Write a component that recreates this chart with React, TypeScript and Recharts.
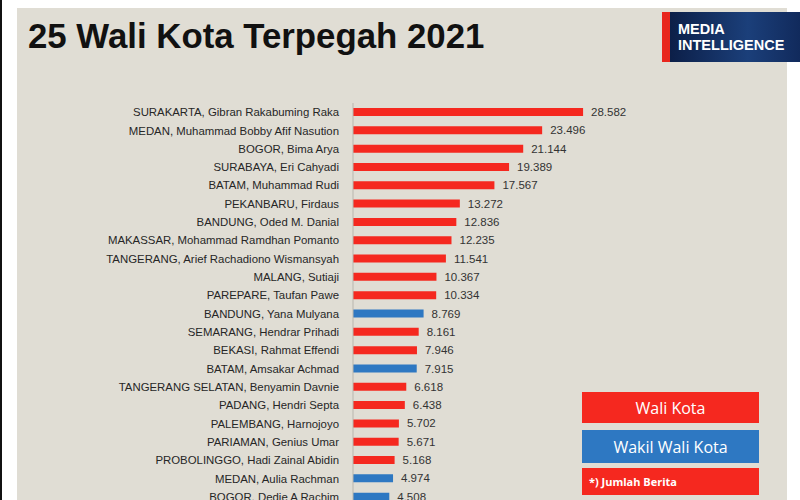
import React from 'react';
import { BarChart, Bar, XAxis, YAxis, Cell, LabelList } from 'recharts';

const names = [
  'SURAKARTA, Gibran Rakabuming Raka',
  'MEDAN, Muhammad Bobby Afif Nasution',
  'BOGOR, Bima Arya',
  'SURABAYA, Eri Cahyadi',
  'BATAM, Muhammad Rudi',
  'PEKANBARU, Firdaus',
  'BANDUNG, Oded M. Danial',
  'MAKASSAR, Mohammad Ramdhan Pomanto',
  'TANGERANG, Arief Rachadiono Wismansyah',
  'MALANG, Sutiaji',
  'PAREPARE, Taufan Pawe',
  'BANDUNG, Yana Mulyana',
  'SEMARANG, Hendrar Prihadi',
  'BEKASI, Rahmat Effendi',
  'BATAM, Amsakar Achmad',
  'TANGERANG SELATAN, Benyamin Davnie',
  'PADANG, Hendri Septa',
  'PALEMBANG, Harnojoyo',
  'PARIAMAN, Genius Umar',
  'PROBOLINGGO, Hadi Zainal Abidin',
  'MEDAN, Aulia Rachman',
  'BOGOR, Dedie A Rachim',
];

const counts = [
  28582, 23496, 21144, 19389, 17567, 13272, 12836, 12235, 11541, 10367, 10334,
  8769, 8161, 7946, 7915, 6618, 6438, 5702, 5671, 5168, 4974, 4508,
];

// W = wali kota, D = wakil wali kota
const roles = [
  'W', 'W', 'W', 'W', 'W', 'W', 'W', 'W', 'W', 'W', 'W',
  'D', 'W', 'W', 'D', 'W', 'W', 'W', 'W', 'W', 'D', 'D',
];

const RED = '#f5281f';
const BLUE = '#2e78c2';

const data = names.map((name, i) => ({ name, count: counts[i], role: roles[i] }));

const fmt = (v: number) => v.toLocaleString('de-DE');

const legendBox: React.CSSProperties = {
  position: 'absolute',
  left: 582,
  width: 177,
  color: '#fff',
  fontFamily: '"Open Sans", "Liberation Sans", sans-serif',
  display: 'flex',
  alignItems: 'center',
  justifyContent: 'center',
};

export default function App() {
  return (
    <div
      style={{
        position: 'fixed',
        left: 0,
        top: 0,
        width: 800,
        height: 500,
        overflow: 'hidden',
        background: '#fff',
      }}
    >
      <div style={{ position: 'absolute', left: 0, top: 0, width: 2, height: 500, background: '#111' }} />
      <div
        style={{
          position: 'absolute',
          left: 17,
          top: 8,
          width: 770,
          height: 500,
          background: '#e0ddd4',
        }}
      />
      <div
        style={{
          position: 'absolute',
          left: 28,
          top: 18,
          fontFamily: '"Liberation Sans", Arial, sans-serif',
          fontWeight: 700,
          fontSize: 34.8,
          lineHeight: '36px',
          color: '#111',
        }}
      >
        25 Wali Kota Terpegah 2021
      </div>
      <div
        style={{
          position: 'absolute',
          left: 662,
          top: 12,
          width: 138,
          height: 50,
          background: 'linear-gradient(90deg, #0c1f48 0%, #1b3f7a 60%, #112a5c 100%)',
          borderLeft: '8px solid #e8261e',
          boxSizing: 'border-box',
          color: '#fff',
          fontFamily: '"Liberation Sans", Arial, sans-serif',
          fontWeight: 700,
          fontSize: 14.5,
          lineHeight: '16px',
          paddingLeft: 8,
          paddingTop: 9,
        }}
      >
        <div>MEDIA</div>
        <div>INTELLIGENCE</div>
      </div>

      <div style={{ position: 'absolute', left: 0, top: 0 }}>
        <BarChart
          width={800}
          height={524}
          data={data}
          layout="vertical"
          margin={{ top: 103, right: 125, left: 0, bottom: 18 }}
          barCategoryGap={5}
        >
          <XAxis type="number" hide domain={[0, 40000]} />
          <YAxis
            type="category"
            dataKey="name"
            width={353}
            axisLine={{ stroke: '#b9b6ae' }}
            tickLine={false}
            tickMargin={8}
            interval={0}
            tick={{ fill: '#262626', fontSize: 11.4, fontFamily: '"Liberation Sans", Arial, sans-serif' }}
          />
          <Bar dataKey="count" barSize={8} isAnimationActive={false}>
            {data.map((d, i) => (
              <Cell key={i} fill={d.role === 'W' ? RED : BLUE} />
            ))}
            <LabelList
              dataKey="count"
              position="right"
              offset={8}
              formatter={fmt}
              fill="#333"
              fontSize={11.5}
              fontFamily='"Liberation Sans", Arial, sans-serif'
            />
          </Bar>
        </BarChart>
      </div>

      <div style={{ ...legendBox, top: 392, height: 31, background: RED, fontSize: 16 }}>Wali Kota</div>
      <div style={{ ...legendBox, top: 430, height: 33, background: BLUE, fontSize: 16 }}>Wakil Wali Kota</div>
      <div
        style={{
          ...legendBox,
          top: 468,
          height: 27,
          background: RED,
          fontSize: 11,
          fontWeight: 700,
          justifyContent: 'flex-start',
          paddingLeft: 7,
          boxSizing: 'border-box',
        }}
      >
        *) Jumlah Berita
      </div>
    </div>
  );
}
